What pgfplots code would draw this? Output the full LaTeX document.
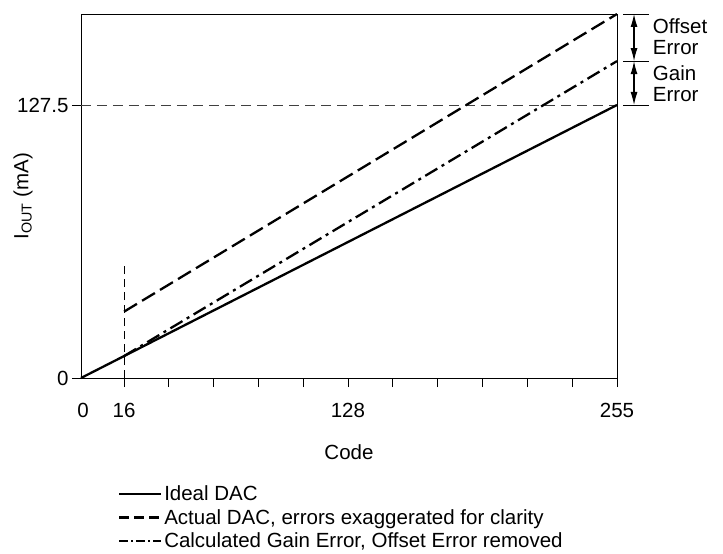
\documentclass[border=0pt]{standalone}
\usepackage{fontspec}
\setmainfont{Liberation Sans}
\usepackage{pgfplots}
\pgfplotsset{compat=1.18}
\usetikzlibrary{arrows.meta}

\begin{document}
\begin{tikzpicture}[font=\fontsize{20.5bp}{21.5bp}\selectfont]
\useasboundingbox (-81bp,-176bp) rectangle (642bp,378bp);
\begin{axis}[
    scale only axis,
    width=536bp, height=364bp,
    xmin=0, xmax=255, ymin=0, ymax=170,
    clip=false,
    axis line style={line width=0.9bp},
    tick align=outside,
    major tick length=9bp,
    tick style={line width=0.9bp, black},
    xtick={20.5,41.8,63.1,84.4,105.7,127,148.3,169.7,191,212.3,233.7,255},
    xticklabels={16,,,,,128,,,,,,255},
    xticklabel style={yshift=-13bp},
    extra x ticks={0},
    extra x tick labels={0},
    extra x tick style={major tick length=0pt, xticklabel style={yshift=-9bp, xshift=2bp}},
    ytick={0,127.5},
    yticklabels={0,127.5},
    xtick pos=bottom, ytick pos=left,
    /pgf/number format/assume math mode=true,
    xlabel={Code},
    xlabel style={at={(axis description cs:0.5,-0.203)}, anchor=center},
    ylabel={I\textsubscript{OUT} (mA)},
    ylabel style={at={(axis description cs:-0.108,0.5)}, anchor=center},
    legend style={at={(0.063,-0.285)}, anchor=north west, draw=none, fill=none,
        row sep=3bp, font=\fontsize{20.5bp}{21.5bp}\selectfont},
    legend cell align=left,
    legend image code/.code={\draw[#1] (0bp,0bp) -- (42bp,0bp);},
]
% guide lines
\addplot[forget plot, black!75, line width=0.8bp, dash pattern=on 10bp off 6bp]
    coordinates {(0,127.5) (255,127.5)};
\addplot[forget plot, black, line width=0.8bp, dash pattern=on 8bp off 5bp]
    coordinates {(20.5,0) (20.5,54)};
% series
\addplot[black, line width=2.3bp] coordinates {(0,0) (255,127.5)};
\addplot[black, line width=2.3bp, dash pattern=on 15bp off 6bp,
    legend image post style={dash pattern=on 10bp off 5bp}]
    coordinates {(20.5,31) (255,170)};
\addplot[black, line width=2.3bp, dash pattern=on 14bp off 5bp on 3bp off 5bp,
    legend image post style={dash pattern=on 9bp off 3bp on 2bp off 3bp}]
    coordinates {(20.5,10.25) (255,148)};
\legend{Ideal DAC, {Actual DAC, errors exaggerated for clarity}, {Calculated Gain Error, Offset Error removed}}

% error annotations
\draw[line width=0.8bp] (axis cs:257.9,170) -- (axis cs:270.3,170);
\draw[line width=0.8bp] (axis cs:257.9,148) -- (axis cs:270.3,148);
\draw[line width=0.8bp] (axis cs:257.9,127.5) -- (axis cs:270.3,127.5);
\draw[line width=1.1bp, {Latex[length=13bp,width=7bp]}-{Latex[length=13bp,width=7bp]}]
    (axis cs:263.1,170) -- (axis cs:263.1,148);
\draw[line width=1.1bp, {Latex[length=13bp,width=7bp]}-{Latex[length=13bp,width=7bp]}]
    (axis cs:263.1,148) -- (axis cs:263.1,127.5);
\node[anchor=west, align=left, inner sep=0pt] at (axis cs:272,159.3) {Offset\\Error};
\node[anchor=west, align=left, inner sep=0pt] at (axis cs:272,137.5) {Gain\\Error};
\end{axis}
\end{tikzpicture}
\end{document}
